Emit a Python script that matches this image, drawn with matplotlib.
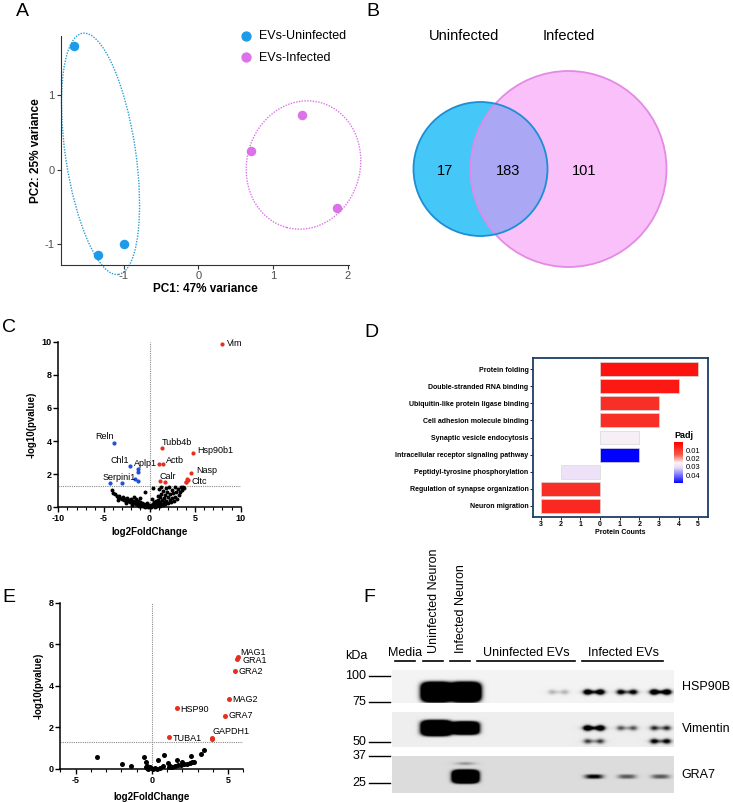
import numpy as np
import matplotlib
matplotlib.use('Agg')
import matplotlib.pyplot as plt
from matplotlib.patches import Ellipse, Circle
from matplotlib.colors import LinearSegmentedColormap, Normalize
from matplotlib.colorbar import ColorbarBase
from matplotlib.ticker import MultipleLocator

plt.rcParams['font.family'] = ['Liberation Sans', 'DejaVu Sans']
plt.rcParams['axes.unicode_minus'] = False

# ---- A: PCA ----
pc1_uninf = [-1.66, -1.34, -1.00]
pc2_uninf = [1.67, -1.15, -1.00]
pc1_inf = [0.71, 1.39, 1.86]
pc2_inf = [0.26, 0.74, -0.52]
pca_groups = ['EVs-Uninfected', 'EVs-Infected']

# ---- B: Venn ----
venn_sets = ['Uninfected', 'Infected']
venn_counts = [17, 183, 101]   # only uninfected, shared, only infected

# ---- C: volcano (mouse proteins) ----
c_black_x = [-4.15, -3.95, -3.8, -3.6, -3.45, -3.3, -3.2, -3.0, -2.9, -2.8, -2.65, -2.55, -2.45,
             -2.35, -2.2, -2.1, -2.0, -1.9, -1.85, -1.75, -1.7, -1.6, -1.5, -1.45, -1.4, -1.3,
             -1.25, -1.15, -1.1, -1.0, -0.95, -0.9, -0.8, -0.75, -0.7, -0.6, -0.55, -0.45, -0.4,
             -0.3, -0.25, -0.15, -0.1, -2.6, -3.5, -1.95, -1.2, -0.5, -1.05,
             0.0, 0.05, 0.15, 0.2, 0.3, 0.35, 0.45, 0.5, 0.55, 0.65, 0.7, 0.8, 0.85, 0.95, 1.0,
             1.1, 1.15, 1.2, 1.25, 1.3, 1.35, 1.45, 1.5, 1.55, 1.6, 1.7, 1.75, 1.8, 1.85, 1.95,
             2.0, 2.05, 2.15, 2.2, 2.3, 2.35, 2.45, 2.5, 2.6, 2.7, 2.75, 2.85, 2.95, 3.05, 3.15,
             3.25, 3.35, 3.45, 3.55, 3.7, 3.8, 1.25, 0.4, 0.9, 1.05, 0.25]
c_black_y = [1.02, 0.88, 0.78, 0.70, 0.62, 0.66, 0.55, 0.50, 0.62, 0.45, 0.52, 0.40, 0.58,
             0.36, 0.46, 0.32, 0.52, 0.28, 0.40, 0.62, 0.24, 0.35, 0.20, 0.48, 0.30, 0.16,
             0.38, 0.26, 0.12, 0.34, 0.20, 0.08, 0.28, 0.15, 0.05, 0.22, 0.10, 0.03, 0.16,
             0.07, 0.25, 0.02, 0.12, 0.28, 0.45, 0.15, 0.05, 0.95, 0.55,
             0.02, 0.08, 0.04, 0.15, 0.06, 0.22, 0.10, 0.30, 0.03, 0.18, 0.38, 0.10, 0.26, 0.45, 0.15,
             0.32, 0.60, 0.05, 0.22, 0.80, 0.42, 0.12, 1.00, 0.30, 0.55, 0.20, 0.75, 1.15, 0.40, 0.95,
             0.25, 0.60, 1.20, 0.45, 0.80, 0.30, 1.05, 0.55, 0.85, 0.40, 1.20, 0.65, 0.95, 0.50, 1.10,
             0.75, 0.90, 1.20, 1.05, 1.25, 1.15, 1.25, 1.18, 0.70, 1.10, 0.50]
c_blue_x = [-3.84, -2.10, -1.26, -1.26, -1.62, -1.24, -4.28, -3.05]
c_blue_y = [3.90, 2.51, 2.30, 2.12, 1.73, 1.58, 1.48, 1.48]
c_red_x = [8.0, 1.35, 4.75, 0.99, 1.46, 4.6, 1.13, 1.75, 4.0, 4.1, 4.2, 3.95]
c_red_y = [9.84, 3.56, 3.26, 2.59, 2.59, 2.09, 1.57, 1.51, 1.55, 1.70, 1.65, 1.50]
c_labels = ['Vim', 'Reln', 'Tubb4b', 'Hsp90b1', 'Chl1', 'Aplp1', 'Actb', 'Nasp', 'Serpini1', 'Calr', 'Cltc']
c_label_x = [8.44, -3.9, 1.35, 5.2, -2.27, -1.72, 1.83, 5.1, -5.2, 1.13, 4.6]
c_label_y = [9.9, 4.3, 3.9, 3.4, 2.84, 2.63, 2.8, 2.25, 1.79, 1.89, 1.53]
c_label_ha = ['left', 'right', 'left', 'left', 'right', 'left', 'left', 'left', 'left', 'left', 'left']

# ---- D: GO terms ----
go_terms = ['Protein folding', 'Double-stranded RNA binding', 'Ubiquitin-like protein ligase binding',
            'Cell adhesion molecule binding', 'Synaptic vesicle endocytosis',
            'Intracellular receptor signaling pathway', 'Peptidyl-tyrosine phosphorylation',
            'Regulation of synapse organization', 'Neuron migration']
go_counts = [5, 4, 3, 3, 2, 2, -2, -3, -3]
go_padj = [0.003, 0.004, 0.008, 0.008, 0.026, 0.05, 0.029, 0.008, 0.007]

# ---- E: volcano (parasite proteins) ----
e_black_x = [-3.57, -1.93, -1.34, -0.50, -0.35, -0.29, -0.30, -0.22, -0.15, -0.05, 0.05, 0.2, 0.35,
             0.41, 0.81, 0.75, 1.07, 1.62, 1.95, 2.54, 2.78, 3.22, 3.41, 1.1, 1.3, 1.5, 1.7, 1.9,
             2.1, 2.3, 2.5, 2.65, -0.4, 0.55, 1.2]
e_black_y = [0.56, 0.23, 0.13, 0.56, 0.32, 0.14, 0.05, 0.02, 0.08, 0.03, 0.01, 0.04, 0.02,
             0.43, 0.67, 0.14, 0.27, 0.43, 0.32, 0.64, 0.35, 0.74, 0.91, 0.08, 0.11, 0.14, 0.17, 0.20,
             0.22, 0.25, 0.28, 0.32, 0.10, 0.06, 0.15]
e_red_x = [5.67, 5.60, 5.43, 5.06, 4.79, 1.64, 1.16, 3.98, 3.98]
e_red_y = [5.38, 5.27, 4.73, 3.37, 2.56, 2.92, 1.52, 1.49, 1.43]
e_labels = ['MAG1', 'GRA1', 'GRA2', 'MAG2', 'GRA7', 'HSP90', 'TUBA1', 'GAPDH1']
e_label_x = [5.82, 5.93, 5.69, 5.30, 5.03, 1.86, 1.38, 3.96]
e_label_y = [5.61, 5.21, 4.71, 3.35, 2.55, 2.88, 1.49, 1.81]

# ---- F: western blot, relative band strength per lane ----
blot_lanes = ['Media', 'Uninfected Neuron', 'Infected Neuron',
              'uEV1', 'uEV2', 'uEV3', 'iEV1', 'iEV2', 'iEV3']
hsp90b_band = [0, 1, 1, 0, 0, 0.12, 0.85, 0.6, 0.95]
vimentin_band = [0, 1, 0.75, 0, 0, 0, 0.95, 0.3, 0.4]
vimentin_low_band = [0, 0, 0, 0, 0, 0, 0.35, 0, 0.55]
gra7_band = [0, 0, 1, 0, 0, 0, 0.7, 0.4, 0.4]
gra7_high_band = [0, 0, 0.25, 0, 0, 0, 0, 0, 0]
kda_marks = [100, 75, 50, 37, 25]

W, H = 733, 802
fig = plt.figure(figsize=(W / 100, H / 100), dpi=100)


def add_ax(x0, y0, x1, y1):
    return fig.add_axes([x0 / W, 1 - y1 / H, (x1 - x0) / W, (y1 - y0) / H])


for letter, lx, ly in [('A', 16, 12), ('B', 366, 12), ('C', 2, 327), ('D', 364, 333), ('E', 2, 597), ('F', 363, 597)]:
    fig.text(lx / W, 1 - ly / H, letter, fontsize=14, va='center', ha='left')

# ================= A =================
blue_a = '#1E9BE8'
pink_a = '#DC72E8'
axA = add_ax(61, 36, 349, 265)
axA.scatter(pc1_uninf, pc2_uninf, s=34, color=blue_a, zorder=3, label=pca_groups[0])
axA.scatter(pc1_inf, pc2_inf, s=34, color=pink_a, zorder=3, label=pca_groups[1])
axA.add_patch(Ellipse((-1.31, 0.215), 0.94, 3.28, angle=8.4, fill=False, ls=(0, (1, 1)),
                      lw=1.0, color='#2A9CD0', clip_on=False))
axA.add_patch(Ellipse((1.41, 0.065), 1.52, 1.74, angle=-15, fill=False, ls=(0, (1, 1)),
                      lw=1.0, color=pink_a, clip_on=False))
axA.set_xlim(-1.84, 2.02)
axA.set_ylim(-1.28, 1.80)
axA.set_xticks([-1, 0, 1, 2])
axA.set_yticks([-1, 0, 1])
for s in ['top', 'right']:
    axA.spines[s].set_visible(False)
for s in ['left', 'bottom']:
    axA.spines[s].set_color('#333333')
    axA.spines[s].set_linewidth(0.8)
axA.tick_params(colors='#333333', labelcolor='#4D4D4D', labelsize=8, length=3, width=0.8, pad=1.5)
axA.set_xlabel('PC1: 47% variance', fontsize=8.5, fontweight='bold', labelpad=1)
axA.set_ylabel('PC2: 25% variance', fontsize=8.5, fontweight='bold', labelpad=2)
axA.legend(loc='upper left', bbox_to_anchor=(230 / W, 1 - 24 / H), bbox_transform=fig.transFigure,
           frameon=False, fontsize=9, handletextpad=0.3, labelspacing=0.75, borderpad=0,
           handlelength=1.5, markerscale=1.1)

# ================= B =================
axB = add_ax(370, 0, 733, 300)
axB.set_xlim(370, 733)
axB.set_ylim(300, 0)
axB.axis('off')
pink_c = Circle((568.5, 169), 98, fc='#F9C0F9', ec='none')
blue_c = Circle((480.5, 169), 67, fc='#45C8F8', ec='none')
axB.add_patch(pink_c)
axB.add_patch(blue_c)
ov = Circle((480.5, 169), 67, fc='#AAA8F4', ec='none')
axB.add_patch(ov)
ov.set_clip_path(pink_c)
axB.add_patch(Circle((568.5, 169), 98, fill=False, ec='#E38AE6', lw=1.3))
axB.add_patch(Circle((480.5, 169), 67, fill=False, ec='#1C8ED6', lw=1.3))
axB.text(464, 36, venn_sets[0], fontsize=10.5, ha='center', va='center')
axB.text(569, 36, venn_sets[1], fontsize=10.5, ha='center', va='center')
for cx, n in zip([445, 508, 584], venn_counts):
    axB.text(cx, 171, str(n), fontsize=10.5, ha='center', va='center')


def volcano_style(ax, xlim, ylim, xmaj, ymaj):
    ax.set_xlim(*xlim)
    ax.set_ylim(*ylim)
    ax.xaxis.set_major_locator(MultipleLocator(xmaj))
    ax.xaxis.set_minor_locator(MultipleLocator(1))
    ax.yaxis.set_major_locator(MultipleLocator(ymaj))
    for s in ['top', 'right']:
        ax.spines[s].set_visible(False)
    for s in ['left', 'bottom']:
        ax.spines[s].set_linewidth(1.1)
    ax.tick_params(which='major', length=3.5, width=1.0, labelsize=6.5, pad=1.5, direction='out')
    ax.tick_params(which='minor', length=2, width=0.8, direction='out')
    for lab in ax.get_xticklabels() + ax.get_yticklabels():
        lab.set_fontweight('bold')
    ax.axvline(0, ls=(0, (1, 1)), color='#8A8A8A', lw=0.8, zorder=1)
    ax.axhline(1.3, ls=(0, (1, 1)), color='#8A8A8A', lw=0.8, zorder=1)
    ax.set_xlabel('log2FoldChange', fontsize=7, fontweight='bold', labelpad=3)
    ax.set_ylabel('-log10(pvalue)', fontsize=7, fontweight='bold', labelpad=3)


red_v = '#E5301E'
blue_v = '#2152D4'

# ================= C =================
axC = add_ax(58.3, 341.7, 240.7, 507.3)
axC.scatter(c_black_x, c_black_y, s=8, color='black', lw=0, zorder=2, clip_on=False)
axC.scatter(c_blue_x, c_blue_y, s=9, color=blue_v, lw=0, zorder=3)
axC.scatter(c_red_x, c_red_y, s=9, color=red_v, lw=0, zorder=3)
for t, lx, ly, ha in zip(c_labels, c_label_x, c_label_y, c_label_ha):
    axC.text(lx, ly, t, fontsize=6.5, ha=ha, va='center')
volcano_style(axC, (-10, 10), (0, 10), 5, 2)

# ================= D =================
cmap_d = LinearSegmentedColormap.from_list('padj', [(0, '#FF0000'), (0.3, '#F25A48'),
                                                    (0.5, '#FBF3F6'), (0.62, '#E6DAF7'),
                                                    (1, '#0000FF')])
norm_d = Normalize(vmin=0, vmax=0.05)
axD = add_ax(532.7, 358.3, 708.3, 516.7)
ypos = np.arange(len(go_terms))
axD.barh(ypos, go_counts, height=0.82, color=cmap_d(norm_d(go_padj)), edgecolor='#D8D8D8', lw=0.5)
axD.set_xlim(-3.42, 5.51)
axD.set_ylim(len(go_terms) - 0.36, -0.64)
axD.set_yticks(ypos)
axD.set_yticklabels(go_terms, fontsize=5, fontweight='bold')
axD.set_xticks(range(-3, 6))
axD.set_xticklabels([str(abs(v)) for v in range(-3, 6)], fontsize=5, fontweight='bold')
for s in axD.spines.values():
    s.set_color('#1C3D66')
    s.set_linewidth(1.3)
axD.tick_params(length=2, width=0.6, pad=1)
axD.set_xlabel('Protein Counts', fontsize=5, fontweight='bold', labelpad=1)

cax = add_ax(674, 442.3, 683.3, 483.3)
cb = ColorbarBase(cax, cmap=cmap_d, norm=norm_d, orientation='vertical')
cax.invert_yaxis()
cb.set_ticks([0.01, 0.02, 0.03, 0.04])
cb.set_ticklabels(['0.01', '0.02', '0.03', '0.04'])
cb.outline.set_visible(False)
cax.tick_params(length=0, labelsize=5.5, pad=1.5)
fig.text(674 / W, 1 - 436 / H, 'Padj', fontsize=6.5, fontweight='bold', va='center', ha='left')

# ================= E =================
axE = add_ax(60.3, 602.7, 243.3, 769)
axE.scatter(e_black_x, e_black_y, s=13, color='black', lw=0, zorder=2, clip_on=False)
axE.scatter(e_red_x, e_red_y, s=13, color=red_v, lw=0, zorder=3)
for t, lx, ly in zip(e_labels, e_label_x, e_label_y):
    axE.text(lx, ly, t, fontsize=6.5, ha='left', va='center')
volcano_style(axE, (-6, 6), (0, 8), 5, 2)
axE.set_xlabel('log2FoldChange', fontsize=7, fontweight='bold', labelpad=5)

# ================= F =================
axF = add_ax(340, 540, 733, 802)
axF.set_xlim(340, 733)
axF.set_ylim(802, 540)
axF.axis('off')

lane_x = [405, 436, 465, 493, 526, 558, 593.5, 626.5, 660]


def blob(X, Y, cx, cy, sx, sy, p=2.0):
    return np.exp(-(np.abs((X - cx) / sx) ** p + np.abs((Y - cy) / sy) ** p))


def strip(y0, y1, bg, rows):
    x0, x1 = 391.7, 673.3
    xs = np.arange(x0, x1, 0.5)
    ys = np.arange(y0, y1, 0.5)
    X, Y = np.meshgrid(xs, ys)
    dark = np.zeros_like(X)
    for vals, cy, big_w, big_h, kind in rows:
        for i, v in enumerate(vals):
            if v <= 0:
                continue
            cx = lane_x[i]
            if i in (1, 2):
                amp = 4 * v if v > 0.5 else 1.2 * v
                dark += amp * blob(X, Y, cx, cy, big_w * max(v, 0.6) ** 0.3, big_h * v ** 0.5, 4 if v > 0.5 else 2)
            elif kind == 'pair':
                for off in (-6.5, 6.5):
                    dark += 1.6 * v * blob(X, Y, cx + off, cy, 3.8, 2.6)
                dark += 0.9 * v * blob(X, Y, cx, cy, 9, 1.8)
            else:
                dark += 1.3 * v * blob(X, Y, cx, cy, 9, 2.2, 3)
    img = np.clip(bg - dark, 0, 1)
    axF.imshow(img, cmap='gray', vmin=0, vmax=1, extent=(x0, x1, y1, y0), aspect='auto',
               interpolation='bilinear', zorder=1)


strip(670.7, 703.3, 0.95, [(hsp90b_band, 692.5, 14, 9, 'pair')])
strip(712.7, 747.3, 0.93, [(vimentin_band, 728.5, 14, 7, 'pair'), (vimentin_low_band, 741.7, 10, 3, 'pair')])
strip(756.7, 793.3, 0.86, [(gra7_band, 777, 12, 6, 'bar'), (gra7_high_band, 764, 11, 3, 'bar')])
axF.set_xlim(340, 733)
axF.set_ylim(802, 540)

axF.text(356, 656, 'kDa', fontsize=9, ha='center', va='center')
for m, my in zip(kda_marks, [676, 701.7, 742.3, 756, 783.3]):
    axF.text(366, my, str(m), fontsize=9, ha='right', va='center')
    axF.plot([369, 390], [my, my], color='black', lw=1)

axF.text(405, 652.7, 'Media', fontsize=9, ha='center', va='center')
axF.text(434, 653, 'Uninfected Neuron', fontsize=9, ha='center', va='bottom', rotation=90)
axF.text(461, 653, 'Infected Neuron', fontsize=9, ha='center', va='bottom', rotation=90)
axF.text(526.5, 652.7, 'Uninfected EVs', fontsize=9, ha='center', va='center')
axF.text(623, 652.7, 'Infected EVs', fontsize=9, ha='center', va='center')
for ux0, ux1 in [(395, 415), (423, 443), (450, 470), (477, 575), (582, 663)]:
    axF.plot([ux0, ux1], [661, 661], color='black', lw=1.2)
for t, ty in zip(['HSP90B', 'Vimentin', 'GRA7'], [686.7, 729, 775]):
    axF.text(681.7, ty, t, fontsize=9, ha='left', va='center')

fig.savefig('out.png', dpi=100)
